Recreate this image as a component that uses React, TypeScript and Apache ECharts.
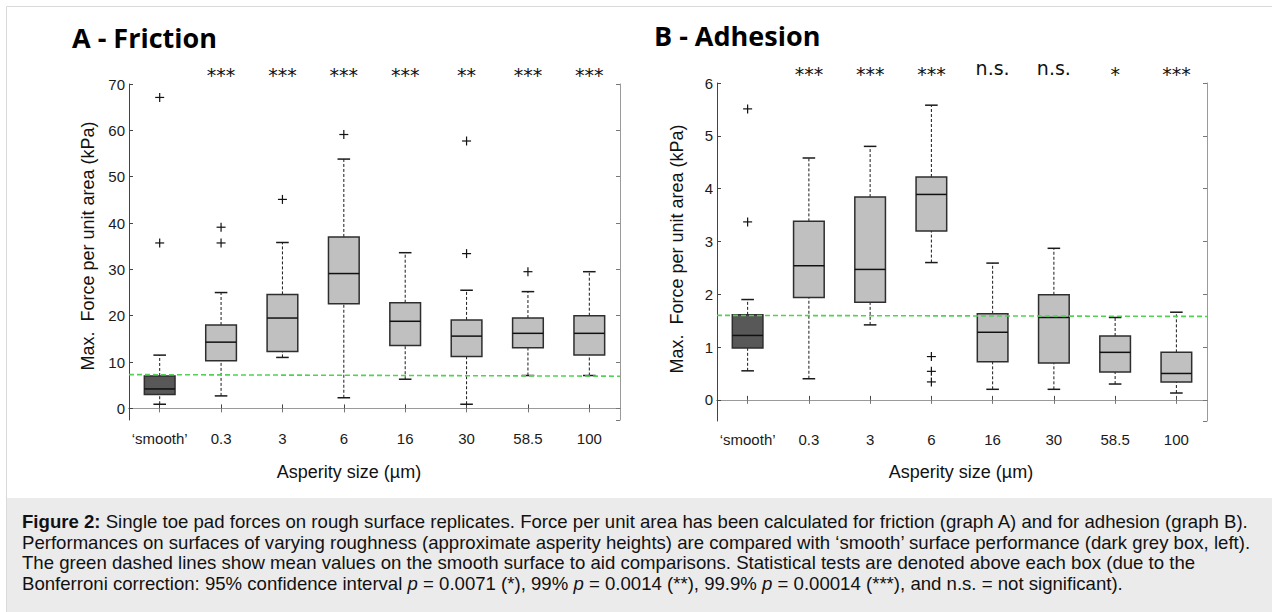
import React, { useEffect, useRef } from "react";
import * as echarts from "echarts";

const categories = ["‘smooth’", "0.3", "3", "6", "16", "30", "58.5", "100"];

// [lower whisker, Q1, median, Q3, upper whisker]
const frictionBoxes = [
  [0.9, 3.0, 4.2, 7.0, 11.5],
  [2.7, 10.3, 14.3, 18.0, 25.0],
  [11.0, 12.3, 19.5, 24.6, 35.8],
  [2.3, 22.6, 29.1, 37.0, 53.8],
  [6.3, 13.6, 18.8, 22.8, 33.6],
  [0.9, 11.2, 15.6, 19.1, 25.5],
  [7.1, 13.1, 16.2, 19.5, 25.2],
  [7.1, 11.5, 16.2, 20.0, 29.5],
];
const frictionOutliers = [
  [0, 67.1], [0, 35.7], [1, 39.1], [1, 35.7], [2, 45.1], [3, 59.1], [5, 33.4], [5, 57.7], [6, 29.5],
];
const frictionMean = [7.3, 6.95];
const frictionSig = ["", "***", "***", "***", "***", "**", "***", "***"];

const adhesionBoxes = [
  [0.55, 0.98, 1.22, 1.61, 1.9],
  [0.4, 1.94, 2.54, 3.38, 4.58],
  [1.42, 1.85, 2.47, 3.84, 4.8],
  [2.6, 3.2, 3.89, 4.22, 5.58],
  [0.2, 0.72, 1.28, 1.63, 2.59],
  [0.2, 0.7, 1.56, 1.99, 2.87],
  [0.3, 0.53, 0.9, 1.21, 1.56],
  [0.13, 0.34, 0.5, 0.9, 1.66],
];
const adhesionOutliers = [
  [0, 5.51], [0, 3.37], [3, 0.82], [3, 0.54], [3, 0.34],
];
const adhesionMean = [1.6, 1.58];
const adhesionSig = ["", "***", "***", "***", "n.s.", "n.s.", "*", "***"];

const frictionRange = [-2.5, 70];
const frictionStep = 10;
const adhesionRange = [-0.4, 6];
const adhesionStep = 1;

const captionLines = [
  "{b|Figure 2:} Single toe pad forces on rough surface replicates. Force per unit area has been calculated for friction (graph A) and for adhesion (graph B).",
  "Performances on surfaces of varying roughness (approximate asperity heights) are compared with ‘smooth’ surface performance (dark grey box, left).",
  "The green dashed lines show mean values on the smooth surface to aid comparisons. Statistical tests are denoted above each box (due to the",
  "Bonferroni correction: 95% confidence interval {i|p} = 0.0071 (*), 99% {i|p} = 0.0014 (**), 99.9% {i|p} = 0.00014 (***), and n.s. = not significant).",
];

const FONT = "'Liberation Sans', Arial, sans-serif";
const CAP_SIZE = 18.6;

function renderBox(params: any, api: any) {
  const i = api.value(0);
  const mn = api.coord([i, api.value(1)]);
  const q1 = api.coord([i, api.value(2)]);
  const md = api.coord([i, api.value(3)]);
  const q3 = api.coord([i, api.value(4)]);
  const mx = api.coord([i, api.value(5)]);
  const band = api.size([1, 0])[0];
  const hw = band * 0.25;
  const cw = 6.3;
  const x = mn[0];
  const dash = { stroke: "#1a1a1a", lineWidth: 1, lineDash: [3, 2] };
  const solid = { stroke: "#1a1a1a", lineWidth: 1.5 };
  return {
    type: "group",
    children: [
      { type: "line", shape: { x1: x, y1: q3[1], x2: x, y2: mx[1] }, style: dash },
      { type: "line", shape: { x1: x, y1: mn[1], x2: x, y2: q1[1] }, style: dash },
      { type: "line", shape: { x1: x - cw, y1: mx[1], x2: x + cw, y2: mx[1] }, style: solid },
      { type: "line", shape: { x1: x - cw, y1: mn[1], x2: x + cw, y2: mn[1] }, style: solid },
      {
        type: "rect",
        shape: { x: x - hw, y: q3[1], width: hw * 2, height: q1[1] - q3[1] },
        style: { fill: params.dataIndex === 0 ? "#585858" : "#c0c0c0", stroke: "#2e2e2e", lineWidth: 1.5 },
      },
      { type: "line", shape: { x1: x - hw, y1: md[1], x2: x + hw, y2: md[1] }, style: { stroke: "#111", lineWidth: 1.5 } },
    ],
  };
}

function renderPlus(params: any, api: any) {
  const p = api.coord([api.value(0), api.value(1)]);
  const r = 4.5;
  const st = { stroke: "#111", lineWidth: 1.2 };
  return {
    type: "group",
    children: [
      { type: "line", shape: { x1: p[0] - r, y1: p[1], x2: p[0] + r, y2: p[1] }, style: st },
      { type: "line", shape: { x1: p[0], y1: p[1] - r, x2: p[0], y2: p[1] + r }, style: st },
    ],
  };
}

function makeSigRenderer(labels: string[]) {
  return (params: any, api: any) => {
    const text = labels[params.dataIndex];
    const x = api.coord([api.value(0), 0])[0];
    const top = params.coordSys.y;
    const stars = text.indexOf("*") >= 0;
    return {
      type: "text",
      x,
      y: top - (stars ? 9 : 15),
      style: {
        text,
        fill: "#111",
        fontSize: 19,
        fontFamily: "'DejaVu Sans', sans-serif",
        align: "center",
        verticalAlign: "middle",
      },
    };
  };
}

function buildAxes(gridIndex: number, range: number[], step: number, labelMargin: number) {
  const isMultiple = (v: number) => Math.abs(v / step - Math.round(v / step)) < 1e-6;
  const xBottom = {
    type: "category",
    gridIndex,
    data: categories,
    position: "bottom",
    boundaryGap: true,
    axisLine: { show: true, lineStyle: { color: "#444", width: 1 } },
    axisTick: { show: true, inside: true, alignWithLabel: true, length: 4, lineStyle: { color: "#444" } },
    axisLabel: { color: "#1a1a1a", fontSize: 15, fontFamily: FONT, margin: labelMargin, interval: 0 },
    splitLine: { show: false },
  };
  const xTop = {
    type: "category",
    gridIndex,
    data: categories,
    position: "top",
    boundaryGap: true,
    axisLine: { show: true, lineStyle: { color: "#9a9a9a", width: 1 } },
    axisTick: { show: true, inside: true, alignWithLabel: true, length: 4, lineStyle: { color: "#777" } },
    axisLabel: { show: false },
    splitLine: { show: false },
  };
  const xHidden = { type: "value", gridIndex, min: 0, max: 1, show: false };
  const yLeft = {
    type: "value",
    gridIndex,
    position: "left",
    min: range[0],
    max: range[1],
    minInterval: step,
    maxInterval: step,
    axisLine: { show: true, lineStyle: { color: "#444", width: 1 } },
    axisTick: { show: true, inside: true, length: 4, lineStyle: { color: "#444" } },
    axisLabel: {
      color: "#1a1a1a",
      fontSize: 15,
      fontFamily: FONT,
      margin: 4,
      showMinLabel: false,
      formatter: (v: number) => (isMultiple(v) ? String(Math.round(v)) : ""),
    },
    splitLine: { show: false },
  };
  const yRight = {
    type: "value",
    gridIndex,
    position: "right",
    min: range[0],
    max: range[1],
    minInterval: step,
    maxInterval: step,
    axisLine: { show: true, lineStyle: { color: "#9a9a9a", width: 1 } },
    axisTick: { show: true, inside: true, length: 4, lineStyle: { color: "#777" } },
    axisLabel: { show: false },
    splitLine: { show: false },
  };
  return { xs: [xBottom, xTop, xHidden], ys: [yLeft, yRight] };
}

function buildSeries(
  xBase: number,
  yBase: number,
  boxes: number[][],
  outliers: number[][],
  mean: number[],
  sig: string[]
) {
  return [
    {
      type: "custom",
      xAxisIndex: xBase,
      yAxisIndex: yBase,
      renderItem: renderBox,
      data: boxes.map((b, i) => [i, ...b]),
      encode: { x: 0, y: [1, 2, 3, 4, 5] },
      z: 2,
      silent: true,
    },
    {
      type: "line",
      xAxisIndex: xBase + 2,
      yAxisIndex: yBase,
      data: [
        [0, mean[0]],
        [1, mean[1]],
      ],
      symbol: "none",
      lineStyle: { color: "#4fd44f", width: 1.6, type: [5, 3] },
      z: 3,
      silent: true,
    },
    {
      type: "custom",
      xAxisIndex: xBase,
      yAxisIndex: yBase,
      renderItem: renderPlus,
      data: outliers,
      z: 4,
      silent: true,
    },
    {
      type: "custom",
      xAxisIndex: xBase,
      yAxisIndex: yBase,
      renderItem: makeSigRenderer(sig),
      data: sig.map((_, i) => [i, 0]),
      clip: false,
      z: 4,
      silent: true,
    },
  ];
}

export default function App() {
  const ref = useRef<HTMLDivElement>(null);

  useEffect(() => {
    if (!ref.current) return;
    const chart = echarts.init(ref.current, undefined, { renderer: "svg" });
    const a = buildAxes(0, frictionRange, frictionStep, 11);
    const b = buildAxes(1, adhesionRange, adhesionStep, 11);

    const captionGraphics = captionLines.map((line, k) => ({
      type: "text",
      x: 22,
      y: 521.9 + k * 20.4,
      style: {
        text: line,
        fill: "#111",
        fontSize: CAP_SIZE,
        fontFamily: FONT,
        verticalAlign: "middle",
        rich: {
          b: { fontWeight: "bold", fontSize: CAP_SIZE, fontFamily: FONT, fill: "#111" },
          i: { fontStyle: "italic", fontSize: CAP_SIZE, fontFamily: FONT, fill: "#111" },
        },
      },
    }));

    const option: any = {
      animation: false,
      backgroundColor: "#ffffff",
      grid: [
        { left: 129, top: 84, width: 491, height: 336, outerBoundsMode: "none", containLabel: false },
        { left: 717, top: 83, width: 490, height: 338, outerBoundsMode: "none", containLabel: false },
      ],
      xAxis: [...a.xs, ...b.xs],
      yAxis: [...a.ys, ...b.ys],
      series: [
        ...buildSeries(0, 0, frictionBoxes, frictionOutliers, frictionMean, frictionSig),
        ...buildSeries(3, 2, adhesionBoxes, adhesionOutliers, adhesionMean, adhesionSig),
      ],
      graphic: [
        {
          type: "rect",
          shape: { x: 6, y: 498, width: 1266, height: 114 },
          style: { fill: "#ebebeb" },
          silent: true,
          z: -10,
        },
        {
          type: "line",
          shape: { x1: 6.5, y1: 6.5, x2: 6.5, y2: 612 },
          style: { stroke: "#dadada", lineWidth: 1 },
          silent: true,
        },
        {
          type: "line",
          shape: { x1: 6.5, y1: 6.5, x2: 1272, y2: 6.5 },
          style: { stroke: "#dadada", lineWidth: 1 },
          silent: true,
        },
        {
          type: "text",
          x: 72,
          y: 37.5,
          style: {
            text: "A - Friction",
            fill: "#000",
            fontSize: 27,
            fontWeight: "bold",
            fontFamily: "'Open Sans', sans-serif",
            verticalAlign: "middle",
          },
        },
        {
          type: "text",
          x: 654,
          y: 35,
          style: {
            text: "B - Adhesion",
            fill: "#000",
            fontSize: 27,
            fontWeight: "bold",
            fontFamily: "'Open Sans', sans-serif",
            verticalAlign: "middle",
          },
        },
        {
          type: "text",
          x: 88,
          y: 246,
          rotation: Math.PI / 2,
          style: {
            text: "Max.  Force per unit area (kPa)",
            fill: "#111",
            fontSize: 18,
            fontFamily: FONT,
            align: "center",
            verticalAlign: "middle",
          },
        },
        {
          type: "text",
          x: 677,
          y: 249,
          rotation: Math.PI / 2,
          style: {
            text: "Max.  Force per unit area (kPa)",
            fill: "#111",
            fontSize: 18,
            fontFamily: FONT,
            align: "center",
            verticalAlign: "middle",
          },
        },
        {
          type: "text",
          x: 349,
          y: 472,
          style: {
            text: "Asperity size (µm)",
            fill: "#111",
            fontSize: 18,
            fontFamily: FONT,
            align: "center",
            verticalAlign: "middle",
          },
        },
        {
          type: "text",
          x: 961,
          y: 472,
          style: {
            text: "Asperity size (µm)",
            fill: "#111",
            fontSize: 18,
            fontFamily: FONT,
            align: "center",
            verticalAlign: "middle",
          },
        },
        ...captionGraphics,
      ],
    };
    chart.setOption(option);
    return () => chart.dispose();
  }, []);

  return (
    <div
      ref={ref}
      style={{ position: "fixed", left: 0, top: 0, width: 1272, height: 612, background: "#fff" }}
    />
  );
}
